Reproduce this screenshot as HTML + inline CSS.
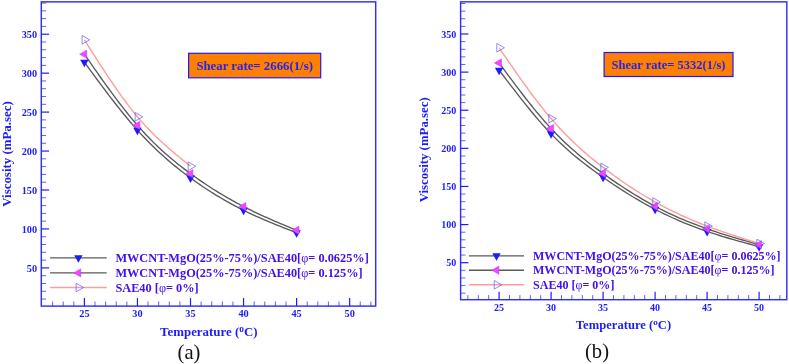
<!DOCTYPE html>
<html><head><meta charset="utf-8"><title>Viscosity vs Temperature</title>
<style>
html,body{margin:0;padding:0;background:#fff;}
svg{display:block;}
text{font-family:"Liberation Serif","Times New Roman",serif;}
.tk{font-weight:bold;fill:#1c1cfa;}
.at{font-weight:bold;fill:#1c1cfa;}
.lg{font-weight:bold;fill:#4410ee;}
.bx{font-weight:bold;fill:#2424ee;}
.cap{font-size:20.6px;fill:#111;}
</style></head><body>
<svg width="789" height="364" viewBox="0 0 789 364">
<rect width="789" height="364" fill="#fff"/>
<rect x="41.3" y="1.85" width="334.4" height="304.25" fill="none" stroke="#3030fc" stroke-width="1.45"/>
<line x1="41.3" x2="46.099999999999994" y1="299.06" y2="299.06" stroke="#1c1cfa" stroke-width="0.7"/>
<line x1="41.3" x2="46.099999999999994" y1="291.27" y2="291.27" stroke="#1c1cfa" stroke-width="0.7"/>
<line x1="41.3" x2="46.099999999999994" y1="283.48" y2="283.48" stroke="#1c1cfa" stroke-width="0.7"/>
<line x1="41.3" x2="46.099999999999994" y1="275.69" y2="275.69" stroke="#1c1cfa" stroke-width="0.7"/>
<line x1="41.3" x2="49.099999999999994" y1="267.90" y2="267.90" stroke="#1c1cfa" stroke-width="1.2"/>
<text x="37.099999999999994" y="271.50" text-anchor="end" class="tk" font-size="10.30">50</text>
<line x1="41.3" x2="46.099999999999994" y1="260.11" y2="260.11" stroke="#1c1cfa" stroke-width="0.7"/>
<line x1="41.3" x2="46.099999999999994" y1="252.32" y2="252.32" stroke="#1c1cfa" stroke-width="0.7"/>
<line x1="41.3" x2="46.099999999999994" y1="244.53" y2="244.53" stroke="#1c1cfa" stroke-width="0.7"/>
<line x1="41.3" x2="46.099999999999994" y1="236.74" y2="236.74" stroke="#1c1cfa" stroke-width="0.7"/>
<line x1="41.3" x2="49.099999999999994" y1="228.95" y2="228.95" stroke="#1c1cfa" stroke-width="1.2"/>
<text x="37.099999999999994" y="232.55" text-anchor="end" class="tk" font-size="10.30">100</text>
<line x1="41.3" x2="46.099999999999994" y1="221.16" y2="221.16" stroke="#1c1cfa" stroke-width="0.7"/>
<line x1="41.3" x2="46.099999999999994" y1="213.37" y2="213.37" stroke="#1c1cfa" stroke-width="0.7"/>
<line x1="41.3" x2="46.099999999999994" y1="205.58" y2="205.58" stroke="#1c1cfa" stroke-width="0.7"/>
<line x1="41.3" x2="46.099999999999994" y1="197.79" y2="197.79" stroke="#1c1cfa" stroke-width="0.7"/>
<line x1="41.3" x2="49.099999999999994" y1="190.00" y2="190.00" stroke="#1c1cfa" stroke-width="1.2"/>
<text x="37.099999999999994" y="193.60" text-anchor="end" class="tk" font-size="10.30">150</text>
<line x1="41.3" x2="46.099999999999994" y1="182.21" y2="182.21" stroke="#1c1cfa" stroke-width="0.7"/>
<line x1="41.3" x2="46.099999999999994" y1="174.42" y2="174.42" stroke="#1c1cfa" stroke-width="0.7"/>
<line x1="41.3" x2="46.099999999999994" y1="166.63" y2="166.63" stroke="#1c1cfa" stroke-width="0.7"/>
<line x1="41.3" x2="46.099999999999994" y1="158.84" y2="158.84" stroke="#1c1cfa" stroke-width="0.7"/>
<line x1="41.3" x2="49.099999999999994" y1="151.05" y2="151.05" stroke="#1c1cfa" stroke-width="1.2"/>
<text x="37.099999999999994" y="154.65" text-anchor="end" class="tk" font-size="10.30">200</text>
<line x1="41.3" x2="46.099999999999994" y1="143.26" y2="143.26" stroke="#1c1cfa" stroke-width="0.7"/>
<line x1="41.3" x2="46.099999999999994" y1="135.47" y2="135.47" stroke="#1c1cfa" stroke-width="0.7"/>
<line x1="41.3" x2="46.099999999999994" y1="127.68" y2="127.68" stroke="#1c1cfa" stroke-width="0.7"/>
<line x1="41.3" x2="46.099999999999994" y1="119.89" y2="119.89" stroke="#1c1cfa" stroke-width="0.7"/>
<line x1="41.3" x2="49.099999999999994" y1="112.10" y2="112.10" stroke="#1c1cfa" stroke-width="1.2"/>
<text x="37.099999999999994" y="115.70" text-anchor="end" class="tk" font-size="10.30">250</text>
<line x1="41.3" x2="46.099999999999994" y1="104.31" y2="104.31" stroke="#1c1cfa" stroke-width="0.7"/>
<line x1="41.3" x2="46.099999999999994" y1="96.52" y2="96.52" stroke="#1c1cfa" stroke-width="0.7"/>
<line x1="41.3" x2="46.099999999999994" y1="88.73" y2="88.73" stroke="#1c1cfa" stroke-width="0.7"/>
<line x1="41.3" x2="46.099999999999994" y1="80.94" y2="80.94" stroke="#1c1cfa" stroke-width="0.7"/>
<line x1="41.3" x2="49.099999999999994" y1="73.15" y2="73.15" stroke="#1c1cfa" stroke-width="1.2"/>
<text x="37.099999999999994" y="76.75" text-anchor="end" class="tk" font-size="10.30">300</text>
<line x1="41.3" x2="46.099999999999994" y1="65.36" y2="65.36" stroke="#1c1cfa" stroke-width="0.7"/>
<line x1="41.3" x2="46.099999999999994" y1="57.57" y2="57.57" stroke="#1c1cfa" stroke-width="0.7"/>
<line x1="41.3" x2="46.099999999999994" y1="49.78" y2="49.78" stroke="#1c1cfa" stroke-width="0.7"/>
<line x1="41.3" x2="46.099999999999994" y1="41.99" y2="41.99" stroke="#1c1cfa" stroke-width="0.7"/>
<line x1="41.3" x2="49.099999999999994" y1="34.20" y2="34.20" stroke="#1c1cfa" stroke-width="1.2"/>
<text x="37.099999999999994" y="37.80" text-anchor="end" class="tk" font-size="10.30">350</text>
<line x1="41.3" x2="46.099999999999994" y1="26.41" y2="26.41" stroke="#1c1cfa" stroke-width="0.7"/>
<line x1="41.3" x2="46.099999999999994" y1="18.62" y2="18.62" stroke="#1c1cfa" stroke-width="0.7"/>
<line x1="41.3" x2="46.099999999999994" y1="10.83" y2="10.83" stroke="#1c1cfa" stroke-width="0.7"/>
<line x1="41.3" x2="46.099999999999994" y1="3.04" y2="3.04" stroke="#1c1cfa" stroke-width="0.7"/>
<line y1="306.1" y2="301.5" x1="52.57" x2="52.57" stroke="#1c1cfa" stroke-width="0.7"/>
<line y1="306.1" y2="301.5" x1="63.18" x2="63.18" stroke="#1c1cfa" stroke-width="0.7"/>
<line y1="306.1" y2="301.5" x1="73.79" x2="73.79" stroke="#1c1cfa" stroke-width="0.7"/>
<line y1="306.1" y2="298.1" x1="84.40" x2="84.40" stroke="#1c1cfa" stroke-width="1.2"/>
<text x="84.40" y="317.1" text-anchor="middle" class="tk" font-size="10.30">25</text>
<line y1="306.1" y2="301.5" x1="95.01" x2="95.01" stroke="#1c1cfa" stroke-width="0.7"/>
<line y1="306.1" y2="301.5" x1="105.62" x2="105.62" stroke="#1c1cfa" stroke-width="0.7"/>
<line y1="306.1" y2="301.5" x1="116.23" x2="116.23" stroke="#1c1cfa" stroke-width="0.7"/>
<line y1="306.1" y2="301.5" x1="126.84" x2="126.84" stroke="#1c1cfa" stroke-width="0.7"/>
<line y1="306.1" y2="298.1" x1="137.45" x2="137.45" stroke="#1c1cfa" stroke-width="1.2"/>
<text x="137.45" y="317.1" text-anchor="middle" class="tk" font-size="10.30">30</text>
<line y1="306.1" y2="301.5" x1="148.06" x2="148.06" stroke="#1c1cfa" stroke-width="0.7"/>
<line y1="306.1" y2="301.5" x1="158.67" x2="158.67" stroke="#1c1cfa" stroke-width="0.7"/>
<line y1="306.1" y2="301.5" x1="169.28" x2="169.28" stroke="#1c1cfa" stroke-width="0.7"/>
<line y1="306.1" y2="301.5" x1="179.89" x2="179.89" stroke="#1c1cfa" stroke-width="0.7"/>
<line y1="306.1" y2="298.1" x1="190.50" x2="190.50" stroke="#1c1cfa" stroke-width="1.2"/>
<text x="190.50" y="317.1" text-anchor="middle" class="tk" font-size="10.30">35</text>
<line y1="306.1" y2="301.5" x1="201.11" x2="201.11" stroke="#1c1cfa" stroke-width="0.7"/>
<line y1="306.1" y2="301.5" x1="211.72" x2="211.72" stroke="#1c1cfa" stroke-width="0.7"/>
<line y1="306.1" y2="301.5" x1="222.33" x2="222.33" stroke="#1c1cfa" stroke-width="0.7"/>
<line y1="306.1" y2="301.5" x1="232.94" x2="232.94" stroke="#1c1cfa" stroke-width="0.7"/>
<line y1="306.1" y2="298.1" x1="243.55" x2="243.55" stroke="#1c1cfa" stroke-width="1.2"/>
<text x="243.55" y="317.1" text-anchor="middle" class="tk" font-size="10.30">40</text>
<line y1="306.1" y2="301.5" x1="254.16" x2="254.16" stroke="#1c1cfa" stroke-width="0.7"/>
<line y1="306.1" y2="301.5" x1="264.77" x2="264.77" stroke="#1c1cfa" stroke-width="0.7"/>
<line y1="306.1" y2="301.5" x1="275.38" x2="275.38" stroke="#1c1cfa" stroke-width="0.7"/>
<line y1="306.1" y2="301.5" x1="285.99" x2="285.99" stroke="#1c1cfa" stroke-width="0.7"/>
<line y1="306.1" y2="298.1" x1="296.60" x2="296.60" stroke="#1c1cfa" stroke-width="1.2"/>
<text x="296.60" y="317.1" text-anchor="middle" class="tk" font-size="10.30">45</text>
<line y1="306.1" y2="301.5" x1="307.21" x2="307.21" stroke="#1c1cfa" stroke-width="0.7"/>
<line y1="306.1" y2="301.5" x1="317.82" x2="317.82" stroke="#1c1cfa" stroke-width="0.7"/>
<line y1="306.1" y2="301.5" x1="328.43" x2="328.43" stroke="#1c1cfa" stroke-width="0.7"/>
<line y1="306.1" y2="301.5" x1="339.04" x2="339.04" stroke="#1c1cfa" stroke-width="0.7"/>
<line y1="306.1" y2="298.1" x1="349.65" x2="349.65" stroke="#1c1cfa" stroke-width="1.2"/>
<text x="349.65" y="317.1" text-anchor="middle" class="tk" font-size="10.30">50</text>
<line y1="306.1" y2="301.5" x1="360.26" x2="360.26" stroke="#1c1cfa" stroke-width="0.7"/>
<line y1="306.1" y2="301.5" x1="370.87" x2="370.87" stroke="#1c1cfa" stroke-width="0.7"/>
<path d="M84.40,62.24 L87.09,65.91 L89.77,69.57 L92.46,73.22 L95.14,76.86 L97.83,80.49 L100.52,84.11 L103.20,87.70 L105.89,91.26 L108.57,94.80 L111.26,98.31 L113.95,101.78 L116.63,105.22 L119.32,108.61 L122.01,111.96 L124.69,115.26 L127.38,118.51 L130.06,121.71 L132.75,124.84 L135.44,127.91 L138.12,130.92 L140.81,133.86 L143.49,136.73 L146.18,139.54 L148.87,142.28 L151.55,144.97 L154.24,147.59 L156.92,150.16 L159.61,152.66 L162.30,155.12 L164.98,157.52 L167.67,159.87 L170.35,162.17 L173.04,164.42 L175.73,166.63 L178.41,168.79 L181.10,170.91 L183.78,172.98 L186.47,175.02 L189.16,177.02 L191.84,178.98 L194.53,180.91 L197.22,182.80 L199.90,184.65 L202.59,186.47 L205.27,188.26 L207.96,190.01 L210.65,191.73 L213.33,193.42 L216.02,195.08 L218.70,196.70 L221.39,198.29 L224.08,199.85 L226.76,201.38 L229.45,202.88 L232.13,204.34 L234.82,205.78 L237.51,207.19 L240.19,208.57 L242.88,209.92 L245.56,211.24 L248.25,212.54 L250.94,213.81 L253.62,215.05 L256.31,216.28 L258.99,217.48 L261.68,218.66 L264.37,219.82 L267.05,220.97 L269.74,222.10 L272.43,223.21 L275.11,224.32 L277.80,225.41 L280.48,226.49 L283.17,227.56 L285.86,228.63 L288.54,229.69 L291.23,230.74 L293.91,231.79 L296.60,232.85" fill="none" stroke="#5a5a5a" stroke-width="1.35"/>
<path d="M84.40,54.22 L87.09,58.08 L89.77,61.94 L92.46,65.79 L95.14,69.63 L97.83,73.45 L100.52,77.25 L103.20,81.03 L105.89,84.78 L108.57,88.50 L111.26,92.18 L113.95,95.82 L116.63,99.42 L119.32,102.97 L122.01,106.46 L124.69,109.90 L127.38,113.28 L130.06,116.59 L132.75,119.84 L135.44,123.01 L138.12,126.11 L140.81,129.13 L143.49,132.07 L146.18,134.94 L148.87,137.73 L151.55,140.46 L154.24,143.12 L156.92,145.71 L159.61,148.24 L162.30,150.72 L164.98,153.13 L167.67,155.49 L170.35,157.79 L173.04,160.05 L175.73,162.26 L178.41,164.42 L181.10,166.54 L183.78,168.61 L186.47,170.65 L189.16,172.65 L191.84,174.62 L194.53,176.56 L197.22,178.46 L199.90,180.33 L202.59,182.17 L205.27,183.98 L207.96,185.75 L210.65,187.50 L213.33,189.21 L216.02,190.90 L218.70,192.56 L221.39,194.18 L224.08,195.78 L226.76,197.35 L229.45,198.89 L232.13,200.40 L234.82,201.88 L237.51,203.34 L240.19,204.77 L242.88,206.17 L245.56,207.54 L248.25,208.89 L250.94,210.22 L253.62,211.52 L256.31,212.80 L258.99,214.06 L261.68,215.31 L264.37,216.53 L267.05,217.74 L269.74,218.93 L272.43,220.11 L275.11,221.28 L277.80,222.44 L280.48,223.59 L283.17,224.73 L285.86,225.86 L288.54,226.99 L291.23,228.11 L293.91,229.23 L296.60,230.35" fill="none" stroke="#5a5a5a" stroke-width="1.35"/>
<path d="M84.40,39.81 L85.74,41.93 L87.09,44.05 L88.43,46.17 L89.77,48.29 L91.12,50.41 L92.46,52.52 L93.80,54.63 L95.14,56.73 L96.49,58.83 L97.83,60.92 L99.17,63.01 L100.52,65.09 L101.86,67.16 L103.20,69.22 L104.55,71.27 L105.89,73.31 L107.23,75.34 L108.57,77.36 L109.92,79.37 L111.26,81.37 L112.60,83.35 L113.95,85.32 L115.29,87.27 L116.63,89.21 L117.98,91.13 L119.32,93.03 L120.66,94.92 L122.01,96.79 L123.35,98.64 L124.69,100.47 L126.03,102.28 L127.38,104.07 L128.72,105.84 L130.06,107.59 L131.41,109.31 L132.75,111.02 L134.09,112.69 L135.44,114.34 L136.78,115.97 L138.12,117.57 L139.46,119.15 L140.81,120.69 L142.15,122.22 L143.49,123.72 L144.84,125.19 L146.18,126.65 L147.52,128.08 L148.87,129.49 L150.21,130.88 L151.55,132.25 L152.89,133.60 L154.24,134.93 L155.58,136.24 L156.92,137.54 L158.27,138.82 L159.61,140.08 L160.95,141.33 L162.30,142.56 L163.64,143.78 L164.98,144.99 L166.33,146.18 L167.67,147.36 L169.01,148.53 L170.35,149.69 L171.70,150.84 L173.04,151.98 L174.38,153.11 L175.73,154.23 L177.07,155.35 L178.41,156.45 L179.76,157.56 L181.10,158.65 L182.44,159.75 L183.78,160.84 L185.13,161.92 L186.47,163.00 L187.81,164.08 L189.16,165.16 L190.50,166.24" fill="none" stroke="#ff9c9c" stroke-width="1.4"/>
<polygon points="80.20,59.74 88.60,59.74 84.40,67.24" fill="#1c1cff"/>
<polygon points="133.25,127.67 141.65,127.67 137.45,135.17" fill="#1c1cff"/>
<polygon points="186.30,175.50 194.70,175.50 190.50,183.00" fill="#1c1cff"/>
<polygon points="239.35,207.75 247.75,207.75 243.55,215.25" fill="#1c1cff"/>
<polygon points="292.40,230.35 300.80,230.35 296.60,237.85" fill="#1c1cff"/>
<polygon points="86.77,50.12 86.77,58.32 79.67,54.22" fill="#ff40ff" stroke="#a048f8" stroke-width="0.5"/>
<polygon points="139.82,121.24 139.82,129.44 132.72,125.34" fill="#ff40ff" stroke="#a048f8" stroke-width="0.5"/>
<polygon points="192.87,169.54 192.87,177.74 185.77,173.64" fill="#ff40ff" stroke="#a048f8" stroke-width="0.5"/>
<polygon points="245.92,202.41 245.92,210.61 238.82,206.51" fill="#ff40ff" stroke="#a048f8" stroke-width="0.5"/>
<polygon points="298.97,226.25 298.97,234.45 291.87,230.35" fill="#ff40ff" stroke="#a048f8" stroke-width="0.5"/>
<polygon points="82.10,35.51 82.10,44.11 89.70,39.81" fill="none" stroke="#5a5aff" stroke-width="0.7"/>
<polygon points="135.15,112.47 135.15,121.07 142.75,116.77" fill="none" stroke="#5a5aff" stroke-width="0.7"/>
<polygon points="188.20,161.94 188.20,170.54 195.80,166.24" fill="none" stroke="#5a5aff" stroke-width="0.7"/>
<line x1="50.1" x2="106.7" y1="257.8" y2="257.8" stroke="#5a5a5a" stroke-width="1.35"/>
<polygon points="74.20,255.30 82.60,255.30 78.40,262.80" fill="#1c1cff"/>
<text x="115.4" y="262.0" class="lg" font-size="12.33">MWCNT-MgO(25%-75%)/SAE40[<tspan font-weight="normal">φ</tspan>= 0.0625%]</text>
<line x1="50.1" x2="106.7" y1="272.9" y2="272.9" stroke="#5a5a5a" stroke-width="1.35"/>
<polygon points="80.77,268.80 80.77,277.00 73.67,272.90" fill="#ff40ff" stroke="#a048f8" stroke-width="0.5"/>
<text x="115.4" y="277.09999999999997" class="lg" font-size="12.33">MWCNT-MgO(25%-75%)/SAE40[<tspan font-weight="normal">φ</tspan>= 0.125%]</text>
<line x1="50.1" x2="106.7" y1="287.5" y2="287.5" stroke="#ff9c9c" stroke-width="1.4"/>
<polygon points="76.10,283.20 76.10,291.80 83.70,287.50" fill="none" stroke="#5a5aff" stroke-width="0.7"/>
<text x="115.4" y="291.7" class="lg" font-size="12.33">SAE40 [<tspan font-weight="normal">φ</tspan>= 0%]</text>
<rect x="188.6" y="53.3" width="132.1" height="24.5" fill="#ff8000" stroke="#1c1cfa" stroke-width="1.2"/>
<text x="254.64999999999998" y="69.75" text-anchor="middle" class="bx" font-size="12.80">Shear rate= 2666(1/s)</text>
<text x="208.8" y="336.3" text-anchor="middle" class="at" font-size="12.90">Temperature (<tspan dy="-4.1" font-size="9.30">o</tspan><tspan dy="4.1">C)</tspan></text>
<text transform="translate(10.6,154) rotate(-90)" text-anchor="middle" class="at" font-size="12.90">Viscosity (mPa.sec)</text>
<text x="189" y="358.5" text-anchor="middle" class="cap">(a)</text>
<rect x="460.6" y="1.85" width="326.19999999999993" height="297.84999999999997" fill="none" stroke="#3030fc" stroke-width="1.45"/>
<line x1="460.6" x2="465.40000000000003" y1="293.18" y2="293.18" stroke="#1c1cfa" stroke-width="0.7"/>
<line x1="460.6" x2="465.40000000000003" y1="285.56" y2="285.56" stroke="#1c1cfa" stroke-width="0.7"/>
<line x1="460.6" x2="465.40000000000003" y1="277.94" y2="277.94" stroke="#1c1cfa" stroke-width="0.7"/>
<line x1="460.6" x2="465.40000000000003" y1="270.31" y2="270.31" stroke="#1c1cfa" stroke-width="0.7"/>
<line x1="460.6" x2="468.40000000000003" y1="262.69" y2="262.69" stroke="#1c1cfa" stroke-width="1.2"/>
<text x="456.40000000000003" y="266.29" text-anchor="end" class="tk" font-size="10.07">50</text>
<line x1="460.6" x2="465.40000000000003" y1="255.07" y2="255.07" stroke="#1c1cfa" stroke-width="0.7"/>
<line x1="460.6" x2="465.40000000000003" y1="247.44" y2="247.44" stroke="#1c1cfa" stroke-width="0.7"/>
<line x1="460.6" x2="465.40000000000003" y1="239.82" y2="239.82" stroke="#1c1cfa" stroke-width="0.7"/>
<line x1="460.6" x2="465.40000000000003" y1="232.20" y2="232.20" stroke="#1c1cfa" stroke-width="0.7"/>
<line x1="460.6" x2="468.40000000000003" y1="224.57" y2="224.57" stroke="#1c1cfa" stroke-width="1.2"/>
<text x="456.40000000000003" y="228.17" text-anchor="end" class="tk" font-size="10.07">100</text>
<line x1="460.6" x2="465.40000000000003" y1="216.95" y2="216.95" stroke="#1c1cfa" stroke-width="0.7"/>
<line x1="460.6" x2="465.40000000000003" y1="209.33" y2="209.33" stroke="#1c1cfa" stroke-width="0.7"/>
<line x1="460.6" x2="465.40000000000003" y1="201.71" y2="201.71" stroke="#1c1cfa" stroke-width="0.7"/>
<line x1="460.6" x2="465.40000000000003" y1="194.08" y2="194.08" stroke="#1c1cfa" stroke-width="0.7"/>
<line x1="460.6" x2="468.40000000000003" y1="186.46" y2="186.46" stroke="#1c1cfa" stroke-width="1.2"/>
<text x="456.40000000000003" y="190.06" text-anchor="end" class="tk" font-size="10.07">150</text>
<line x1="460.6" x2="465.40000000000003" y1="178.84" y2="178.84" stroke="#1c1cfa" stroke-width="0.7"/>
<line x1="460.6" x2="465.40000000000003" y1="171.21" y2="171.21" stroke="#1c1cfa" stroke-width="0.7"/>
<line x1="460.6" x2="465.40000000000003" y1="163.59" y2="163.59" stroke="#1c1cfa" stroke-width="0.7"/>
<line x1="460.6" x2="465.40000000000003" y1="155.97" y2="155.97" stroke="#1c1cfa" stroke-width="0.7"/>
<line x1="460.6" x2="468.40000000000003" y1="148.34" y2="148.34" stroke="#1c1cfa" stroke-width="1.2"/>
<text x="456.40000000000003" y="151.94" text-anchor="end" class="tk" font-size="10.07">200</text>
<line x1="460.6" x2="465.40000000000003" y1="140.72" y2="140.72" stroke="#1c1cfa" stroke-width="0.7"/>
<line x1="460.6" x2="465.40000000000003" y1="133.10" y2="133.10" stroke="#1c1cfa" stroke-width="0.7"/>
<line x1="460.6" x2="465.40000000000003" y1="125.48" y2="125.48" stroke="#1c1cfa" stroke-width="0.7"/>
<line x1="460.6" x2="465.40000000000003" y1="117.85" y2="117.85" stroke="#1c1cfa" stroke-width="0.7"/>
<line x1="460.6" x2="468.40000000000003" y1="110.23" y2="110.23" stroke="#1c1cfa" stroke-width="1.2"/>
<text x="456.40000000000003" y="113.83" text-anchor="end" class="tk" font-size="10.07">250</text>
<line x1="460.6" x2="465.40000000000003" y1="102.61" y2="102.61" stroke="#1c1cfa" stroke-width="0.7"/>
<line x1="460.6" x2="465.40000000000003" y1="94.98" y2="94.98" stroke="#1c1cfa" stroke-width="0.7"/>
<line x1="460.6" x2="465.40000000000003" y1="87.36" y2="87.36" stroke="#1c1cfa" stroke-width="0.7"/>
<line x1="460.6" x2="465.40000000000003" y1="79.74" y2="79.74" stroke="#1c1cfa" stroke-width="0.7"/>
<line x1="460.6" x2="468.40000000000003" y1="72.12" y2="72.12" stroke="#1c1cfa" stroke-width="1.2"/>
<text x="456.40000000000003" y="75.72" text-anchor="end" class="tk" font-size="10.07">300</text>
<line x1="460.6" x2="465.40000000000003" y1="64.49" y2="64.49" stroke="#1c1cfa" stroke-width="0.7"/>
<line x1="460.6" x2="465.40000000000003" y1="56.87" y2="56.87" stroke="#1c1cfa" stroke-width="0.7"/>
<line x1="460.6" x2="465.40000000000003" y1="49.25" y2="49.25" stroke="#1c1cfa" stroke-width="0.7"/>
<line x1="460.6" x2="465.40000000000003" y1="41.62" y2="41.62" stroke="#1c1cfa" stroke-width="0.7"/>
<line x1="460.6" x2="468.40000000000003" y1="34.00" y2="34.00" stroke="#1c1cfa" stroke-width="1.2"/>
<text x="456.40000000000003" y="37.60" text-anchor="end" class="tk" font-size="10.07">350</text>
<line x1="460.6" x2="465.40000000000003" y1="26.38" y2="26.38" stroke="#1c1cfa" stroke-width="0.7"/>
<line x1="460.6" x2="465.40000000000003" y1="18.75" y2="18.75" stroke="#1c1cfa" stroke-width="0.7"/>
<line x1="460.6" x2="465.40000000000003" y1="11.13" y2="11.13" stroke="#1c1cfa" stroke-width="0.7"/>
<line x1="460.6" x2="465.40000000000003" y1="3.51" y2="3.51" stroke="#1c1cfa" stroke-width="0.7"/>
<line y1="299.7" y2="295.09999999999997" x1="467.90" x2="467.90" stroke="#1c1cfa" stroke-width="0.7"/>
<line y1="299.7" y2="295.09999999999997" x1="478.30" x2="478.30" stroke="#1c1cfa" stroke-width="0.7"/>
<line y1="299.7" y2="295.09999999999997" x1="488.70" x2="488.70" stroke="#1c1cfa" stroke-width="0.7"/>
<line y1="299.7" y2="291.7" x1="499.10" x2="499.10" stroke="#1c1cfa" stroke-width="1.2"/>
<text x="499.10" y="310.7" text-anchor="middle" class="tk" font-size="10.07">25</text>
<line y1="299.7" y2="295.09999999999997" x1="509.50" x2="509.50" stroke="#1c1cfa" stroke-width="0.7"/>
<line y1="299.7" y2="295.09999999999997" x1="519.90" x2="519.90" stroke="#1c1cfa" stroke-width="0.7"/>
<line y1="299.7" y2="295.09999999999997" x1="530.30" x2="530.30" stroke="#1c1cfa" stroke-width="0.7"/>
<line y1="299.7" y2="295.09999999999997" x1="540.70" x2="540.70" stroke="#1c1cfa" stroke-width="0.7"/>
<line y1="299.7" y2="291.7" x1="551.10" x2="551.10" stroke="#1c1cfa" stroke-width="1.2"/>
<text x="551.10" y="310.7" text-anchor="middle" class="tk" font-size="10.07">30</text>
<line y1="299.7" y2="295.09999999999997" x1="561.50" x2="561.50" stroke="#1c1cfa" stroke-width="0.7"/>
<line y1="299.7" y2="295.09999999999997" x1="571.90" x2="571.90" stroke="#1c1cfa" stroke-width="0.7"/>
<line y1="299.7" y2="295.09999999999997" x1="582.30" x2="582.30" stroke="#1c1cfa" stroke-width="0.7"/>
<line y1="299.7" y2="295.09999999999997" x1="592.70" x2="592.70" stroke="#1c1cfa" stroke-width="0.7"/>
<line y1="299.7" y2="291.7" x1="603.10" x2="603.10" stroke="#1c1cfa" stroke-width="1.2"/>
<text x="603.10" y="310.7" text-anchor="middle" class="tk" font-size="10.07">35</text>
<line y1="299.7" y2="295.09999999999997" x1="613.50" x2="613.50" stroke="#1c1cfa" stroke-width="0.7"/>
<line y1="299.7" y2="295.09999999999997" x1="623.90" x2="623.90" stroke="#1c1cfa" stroke-width="0.7"/>
<line y1="299.7" y2="295.09999999999997" x1="634.30" x2="634.30" stroke="#1c1cfa" stroke-width="0.7"/>
<line y1="299.7" y2="295.09999999999997" x1="644.70" x2="644.70" stroke="#1c1cfa" stroke-width="0.7"/>
<line y1="299.7" y2="291.7" x1="655.10" x2="655.10" stroke="#1c1cfa" stroke-width="1.2"/>
<text x="655.10" y="310.7" text-anchor="middle" class="tk" font-size="10.07">40</text>
<line y1="299.7" y2="295.09999999999997" x1="665.50" x2="665.50" stroke="#1c1cfa" stroke-width="0.7"/>
<line y1="299.7" y2="295.09999999999997" x1="675.90" x2="675.90" stroke="#1c1cfa" stroke-width="0.7"/>
<line y1="299.7" y2="295.09999999999997" x1="686.30" x2="686.30" stroke="#1c1cfa" stroke-width="0.7"/>
<line y1="299.7" y2="295.09999999999997" x1="696.70" x2="696.70" stroke="#1c1cfa" stroke-width="0.7"/>
<line y1="299.7" y2="291.7" x1="707.10" x2="707.10" stroke="#1c1cfa" stroke-width="1.2"/>
<text x="707.10" y="310.7" text-anchor="middle" class="tk" font-size="10.07">45</text>
<line y1="299.7" y2="295.09999999999997" x1="717.50" x2="717.50" stroke="#1c1cfa" stroke-width="0.7"/>
<line y1="299.7" y2="295.09999999999997" x1="727.90" x2="727.90" stroke="#1c1cfa" stroke-width="0.7"/>
<line y1="299.7" y2="295.09999999999997" x1="738.30" x2="738.30" stroke="#1c1cfa" stroke-width="0.7"/>
<line y1="299.7" y2="295.09999999999997" x1="748.70" x2="748.70" stroke="#1c1cfa" stroke-width="0.7"/>
<line y1="299.7" y2="291.7" x1="759.10" x2="759.10" stroke="#1c1cfa" stroke-width="1.2"/>
<text x="759.10" y="310.7" text-anchor="middle" class="tk" font-size="10.07">50</text>
<line y1="299.7" y2="295.09999999999997" x1="769.50" x2="769.50" stroke="#1c1cfa" stroke-width="0.7"/>
<line y1="299.7" y2="295.09999999999997" x1="779.90" x2="779.90" stroke="#1c1cfa" stroke-width="0.7"/>
<path d="M499.10,70.13 L502.39,74.47 L505.68,78.79 L508.97,83.11 L512.26,87.40 L515.56,91.66 L518.85,95.88 L522.14,100.07 L525.43,104.20 L528.72,108.27 L532.01,112.28 L535.30,116.21 L538.59,120.07 L541.88,123.84 L545.18,127.51 L548.47,131.08 L551.76,134.54 L555.05,137.90 L558.34,141.14 L561.63,144.28 L564.92,147.32 L568.21,150.27 L571.51,153.14 L574.80,155.92 L578.09,158.63 L581.38,161.27 L584.67,163.84 L587.96,166.36 L591.25,168.82 L594.54,171.23 L597.83,173.60 L601.13,175.93 L604.42,178.23 L607.71,180.50 L611.00,182.74 L614.29,184.95 L617.58,187.12 L620.87,189.27 L624.16,191.37 L627.45,193.45 L630.75,195.48 L634.04,197.48 L637.33,199.44 L640.62,201.37 L643.91,203.25 L647.20,205.09 L650.49,206.89 L653.78,208.64 L657.07,210.35 L660.37,212.02 L663.66,213.64 L666.95,215.22 L670.24,216.76 L673.53,218.25 L676.82,219.71 L680.11,221.13 L683.40,222.51 L686.69,223.86 L689.99,225.17 L693.28,226.44 L696.57,227.68 L699.86,228.89 L703.15,230.07 L706.44,231.21 L709.73,232.32 L713.02,233.41 L716.32,234.47 L719.61,235.50 L722.90,236.52 L726.19,237.51 L729.48,238.48 L732.77,239.43 L736.06,240.37 L739.35,241.30 L742.64,242.21 L745.94,243.12 L749.23,244.02 L752.52,244.91 L755.81,245.80 L759.10,246.68" fill="none" stroke="#5a5a5a" stroke-width="1.35"/>
<path d="M499.10,62.97 L502.39,67.42 L505.68,71.86 L508.97,76.29 L512.26,80.70 L515.56,85.08 L518.85,89.42 L522.14,93.72 L525.43,97.97 L528.72,102.16 L532.01,106.28 L535.30,110.33 L538.59,114.30 L541.88,118.18 L545.18,121.97 L548.47,125.66 L551.76,129.23 L555.05,132.69 L558.34,136.05 L561.63,139.29 L564.92,142.44 L568.21,145.50 L571.51,148.47 L574.80,151.36 L578.09,154.16 L581.38,156.90 L584.67,159.56 L587.96,162.17 L591.25,164.72 L594.54,167.21 L597.83,169.66 L601.13,172.07 L604.42,174.45 L607.71,176.78 L611.00,179.09 L614.29,181.36 L617.58,183.59 L620.87,185.79 L624.16,187.95 L627.45,190.07 L630.75,192.16 L634.04,194.20 L637.33,196.20 L640.62,198.16 L643.91,200.08 L647.20,201.96 L650.49,203.79 L653.78,205.58 L657.07,207.32 L660.37,209.02 L663.66,210.67 L666.95,212.28 L670.24,213.84 L673.53,215.37 L676.82,216.85 L680.11,218.30 L683.40,219.71 L686.69,221.08 L689.99,222.42 L693.28,223.72 L696.57,224.99 L699.86,226.23 L703.15,227.44 L706.44,228.61 L709.73,229.76 L713.02,230.88 L716.32,231.97 L719.61,233.04 L722.90,234.09 L726.19,235.12 L729.48,236.13 L732.77,237.12 L736.06,238.10 L739.35,239.07 L742.64,240.02 L745.94,240.97 L749.23,241.91 L752.52,242.84 L755.81,243.77 L759.10,244.70" fill="none" stroke="#5a5a5a" stroke-width="1.35"/>
<path d="M499.10,47.72 L502.39,52.53 L505.68,57.33 L508.97,62.11 L512.26,66.87 L515.56,71.60 L518.85,76.29 L522.14,80.94 L525.43,85.53 L528.72,90.06 L532.01,94.52 L535.30,98.90 L538.59,103.20 L541.88,107.40 L545.18,111.51 L548.47,115.50 L551.76,119.38 L555.05,123.14 L558.34,126.79 L561.63,130.32 L564.92,133.75 L568.21,137.07 L571.51,140.30 L574.80,143.44 L578.09,146.50 L581.38,149.47 L584.67,152.36 L587.96,155.19 L591.25,157.95 L594.54,160.64 L597.83,163.28 L601.13,165.87 L604.42,168.41 L607.71,170.91 L611.00,173.37 L614.29,175.78 L617.58,178.15 L620.87,180.47 L624.16,182.75 L627.45,184.99 L630.75,187.18 L634.04,189.33 L637.33,191.43 L640.62,193.49 L643.91,195.50 L647.20,197.47 L650.49,199.39 L653.78,201.27 L657.07,203.11 L660.37,204.90 L663.66,206.64 L666.95,208.35 L670.24,210.01 L673.53,211.63 L676.82,213.21 L680.11,214.76 L683.40,216.26 L686.69,217.73 L689.99,219.17 L693.28,220.57 L696.57,221.94 L699.86,223.27 L703.15,224.57 L706.44,225.85 L709.73,227.09 L713.02,228.31 L716.32,229.50 L719.61,230.67 L722.90,231.81 L726.19,232.94 L729.48,234.04 L732.77,235.13 L736.06,236.21 L739.35,237.27 L742.64,238.32 L745.94,239.37 L749.23,240.40 L752.52,241.43 L755.81,242.46 L759.10,243.48" fill="none" stroke="#ff9c9c" stroke-width="1.4"/>
<polygon points="494.90,67.63 503.30,67.63 499.10,75.13" fill="#1c1cff"/>
<polygon points="546.90,131.36 555.30,131.36 551.10,138.86" fill="#1c1cff"/>
<polygon points="598.90,174.81 607.30,174.81 603.10,182.31" fill="#1c1cff"/>
<polygon points="650.90,206.83 659.30,206.83 655.10,214.33" fill="#1c1cff"/>
<polygon points="702.90,228.94 711.30,228.94 707.10,236.44" fill="#1c1cff"/>
<polygon points="754.90,244.18 763.30,244.18 759.10,251.68" fill="#1c1cff"/>
<polygon points="501.47,58.87 501.47,67.07 494.37,62.97" fill="#ff40ff" stroke="#a048f8" stroke-width="0.5"/>
<polygon points="553.47,124.43 553.47,132.63 546.37,128.53" fill="#ff40ff" stroke="#a048f8" stroke-width="0.5"/>
<polygon points="605.47,169.40 605.47,177.60 598.37,173.50" fill="#ff40ff" stroke="#a048f8" stroke-width="0.5"/>
<polygon points="657.47,202.18 657.47,210.38 650.37,206.28" fill="#ff40ff" stroke="#a048f8" stroke-width="0.5"/>
<polygon points="709.47,224.74 709.47,232.94 702.37,228.84" fill="#ff40ff" stroke="#a048f8" stroke-width="0.5"/>
<polygon points="761.47,240.60 761.47,248.80 754.37,244.70" fill="#ff40ff" stroke="#a048f8" stroke-width="0.5"/>
<polygon points="496.80,43.42 496.80,52.02 504.40,47.72" fill="none" stroke="#5a5aff" stroke-width="0.7"/>
<polygon points="548.80,114.32 548.80,122.92 556.40,118.62" fill="none" stroke="#5a5aff" stroke-width="0.7"/>
<polygon points="600.80,163.10 600.80,171.70 608.40,167.40" fill="none" stroke="#5a5aff" stroke-width="0.7"/>
<polygon points="652.80,197.71 652.80,206.31 660.40,202.01" fill="none" stroke="#5a5aff" stroke-width="0.7"/>
<polygon points="704.80,221.80 704.80,230.40 712.40,226.10" fill="none" stroke="#5a5aff" stroke-width="0.7"/>
<polygon points="756.80,239.18 756.80,247.78 764.40,243.48" fill="none" stroke="#5a5aff" stroke-width="0.7"/>
<line x1="469" x2="524" y1="255.8" y2="255.8" stroke="#5a5a5a" stroke-width="1.35"/>
<polygon points="492.30,253.30 500.70,253.30 496.50,260.80" fill="#1c1cff"/>
<text x="533" y="260.0" class="lg" font-size="12.06">MWCNT-MgO(25%-75%)/SAE40[<tspan font-weight="normal">φ</tspan>= 0.0625%]</text>
<line x1="469" x2="524" y1="270.2" y2="270.2" stroke="#5a5a5a" stroke-width="1.35"/>
<polygon points="498.87,266.10 498.87,274.30 491.77,270.20" fill="#ff40ff" stroke="#a048f8" stroke-width="0.5"/>
<text x="533" y="274.4" class="lg" font-size="12.06">MWCNT-MgO(25%-75%)/SAE40[<tspan font-weight="normal">φ</tspan>= 0.125%]</text>
<line x1="469" x2="524" y1="284.8" y2="284.8" stroke="#ff9c9c" stroke-width="1.4"/>
<polygon points="494.20,280.50 494.20,289.10 501.80,284.80" fill="none" stroke="#5a5aff" stroke-width="0.7"/>
<text x="533" y="289.0" class="lg" font-size="12.06">SAE40 [<tspan font-weight="normal">φ</tspan>= 0%]</text>
<rect x="604.1" y="52.5" width="128.89999999999998" height="24.0" fill="#ff8000" stroke="#1c1cfa" stroke-width="1.2"/>
<text x="668.55" y="68.7" text-anchor="middle" class="bx" font-size="12.52">Shear rate= 5332(1/s)</text>
<text x="623.5" y="329" text-anchor="middle" class="at" font-size="12.62">Temperature (<tspan dy="-4.1" font-size="9.10">o</tspan><tspan dy="4.1">C)</tspan></text>
<text transform="translate(428.2,149.8) rotate(-90)" text-anchor="middle" class="at" font-size="12.84">Viscosity (mPa.sec)</text>
<text x="597" y="358.2" text-anchor="middle" class="cap">(b)</text>
</svg>
</body></html>
